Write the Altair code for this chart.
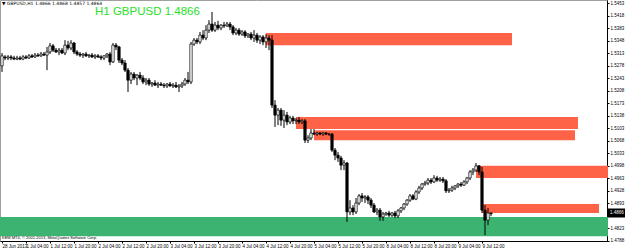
import altair as alt
import pandas as pd

# ---------------- data ----------------
opens = [1.5278,1.5303,1.5300,1.5303,1.5300,1.5297,1.5300,1.5297,1.5303,1.5300,
         1.5306,1.5303,1.5308,1.5306,1.5311,1.5308,1.5317,1.5334,1.5322,1.5317,
         1.5322,1.5314,1.5336,1.5328,1.5342,1.5317,1.5311,1.5308,1.5311,1.5306,
         1.5308,1.5303,1.5306,1.5303,1.5300,1.5306,1.5311,1.5289,1.5336,1.5331,
         1.5294,1.5286,1.5266,1.5238,1.5255,1.5244,1.5252,1.5244,1.5233,1.5238,
         1.5227,1.5230,1.5224,1.5227,1.5224,1.5222,1.5227,1.5222,1.5224,1.5219,
         1.5222,1.5227,1.5238,1.5233,1.5339,1.5350,1.5345,1.5364,1.5356,1.5378,
         1.5395,1.5378,1.5392,1.5384,1.5392,1.5390,1.5395,1.5387,1.5370,1.5378,
         1.5367,1.5373,1.5362,1.5367,1.5356,1.5364,1.5350,1.5359,1.5345,1.5356,
         1.5350,1.5168,1.5140,1.5154,1.5126,1.5140,1.5121,1.5132,1.5124,1.5126,
         1.5121,1.5124,1.5070,1.5076,1.5090,1.5087,1.5090,1.5087,1.5090,1.5087,
         1.5087,1.5042,1.5028,1.5020,1.5000,1.5006,1.4869,1.4880,1.4869,1.4894,
         1.4914,1.4908,1.4911,1.4902,1.4888,1.4869,1.4874,1.4855,1.4863,1.4866,
         1.4860,1.4866,1.4858,1.4872,1.4880,1.4891,1.4902,1.4914,1.4905,1.4925,
         1.4936,1.4947,1.4950,1.4958,1.4953,1.4964,1.4958,1.4961,1.4956,1.4928,
         1.4930,1.4936,1.4942,1.4947,1.4944,1.4953,1.4964,1.4981,1.4986,1.4998,
         1.4981,1.4874,1.4846,1.4866]
highs = [1.5314,1.5308,1.5308,1.5308,1.5306,1.5306,1.5306,1.5308,1.5308,1.5311,
         1.5311,1.5314,1.5314,1.5317,1.5317,1.5331,1.5342,1.5339,1.5328,1.5328,
         1.5328,1.5350,1.5348,1.5350,1.5345,1.5322,1.5317,1.5314,1.5317,1.5311,
         1.5314,1.5311,1.5311,1.5308,1.5308,1.5314,1.5317,1.5342,1.5342,1.5334,
         1.5300,1.5294,1.5272,1.5261,1.5261,1.5255,1.5261,1.5252,1.5244,1.5244,
         1.5233,1.5238,1.5233,1.5233,1.5230,1.5230,1.5233,1.5230,1.5233,1.5227,
         1.5233,1.5244,1.5261,1.5345,1.5356,1.5356,1.5373,1.5378,1.5392,1.5406,
         1.5429,1.5401,1.5404,1.5395,1.5401,1.5401,1.5401,1.5392,1.5384,1.5384,
         1.5378,1.5378,1.5370,1.5373,1.5378,1.5370,1.5364,1.5364,1.5367,1.5364,
         1.5364,1.5182,1.5160,1.5160,1.5154,1.5149,1.5138,1.5138,1.5132,1.5135,
         1.5129,1.5129,1.5084,1.5101,1.5101,1.5093,1.5093,1.5093,1.5093,1.5090,
         1.5090,1.5048,1.5037,1.5026,1.5014,1.5009,1.4902,1.4888,1.4908,1.4919,
         1.4922,1.4916,1.4916,1.4908,1.4894,1.4880,1.4880,1.4869,1.4869,1.4872,
         1.4869,1.4872,1.4877,1.4883,1.4894,1.4905,1.4919,1.4919,1.4930,1.4942,
         1.4950,1.4956,1.4964,1.4964,1.4972,1.4970,1.4967,1.4967,1.4961,1.4936,
         1.4942,1.4944,1.4950,1.4953,1.4958,1.4967,1.4986,1.4992,1.5006,1.5000,
         1.4995,1.4888,1.4880,1.4868]
lows = [1.5261,1.5294,1.5294,1.5294,1.5294,1.5294,1.5294,1.5294,1.5297,1.5297,
        1.5300,1.5300,1.5303,1.5303,1.5306,1.5266,1.5311,1.5317,1.5314,1.5308,
        1.5311,1.5308,1.5322,1.5322,1.5311,1.5306,1.5303,1.5300,1.5303,1.5300,
        1.5300,1.5297,1.5300,1.5294,1.5294,1.5300,1.5280,1.5286,1.5322,1.5286,
        1.5280,1.5261,1.5205,1.5227,1.5238,1.5224,1.5238,1.5227,1.5224,1.5222,
        1.5219,1.5222,1.5216,1.5222,1.5216,1.5216,1.5219,1.5216,1.5216,1.5205,
        1.5216,1.5222,1.5227,1.5227,1.5334,1.5339,1.5339,1.5350,1.5350,1.5370,
        1.5373,1.5373,1.5378,1.5378,1.5384,1.5387,1.5378,1.5364,1.5364,1.5362,
        1.5362,1.5356,1.5356,1.5350,1.5345,1.5342,1.5339,1.5336,1.5328,1.5322,
        1.5160,1.5107,1.5112,1.5110,1.5104,1.5112,1.5115,1.5115,1.5115,1.5115,
        1.5115,1.5062,1.5062,1.5070,1.5084,1.5082,1.5084,1.5082,1.5084,1.5082,
        1.5037,1.5014,1.5009,1.4986,1.4986,1.4841,1.4860,1.4860,1.4863,1.4888,
        1.4897,1.4894,1.4891,1.4880,1.4866,1.4860,1.4844,1.4844,1.4858,1.4855,
        1.4855,1.4852,1.4852,1.4866,1.4874,1.4886,1.4897,1.4902,1.4902,1.4919,
        1.4930,1.4942,1.4944,1.4947,1.4950,1.4953,1.4953,1.4950,1.4922,1.4922,
        1.4925,1.4930,1.4936,1.4939,1.4942,1.4947,1.4958,1.4972,1.4981,1.4972,
        1.4866,1.4804,1.4832,1.4857]
closes = [1.5306,1.5300,1.5303,1.5300,1.5297,1.5300,1.5297,1.5303,1.5300,1.5306,
          1.5303,1.5308,1.5306,1.5311,1.5308,1.5317,1.5334,1.5322,1.5317,1.5322,
          1.5314,1.5336,1.5328,1.5342,1.5317,1.5311,1.5308,1.5311,1.5306,1.5308,
          1.5303,1.5306,1.5303,1.5300,1.5306,1.5311,1.5289,1.5336,1.5331,1.5294,
          1.5286,1.5266,1.5238,1.5255,1.5244,1.5252,1.5244,1.5233,1.5238,1.5227,
          1.5230,1.5224,1.5227,1.5224,1.5222,1.5227,1.5222,1.5224,1.5219,1.5222,
          1.5227,1.5238,1.5233,1.5339,1.5350,1.5345,1.5364,1.5356,1.5378,1.5395,
          1.5378,1.5392,1.5384,1.5392,1.5390,1.5395,1.5387,1.5370,1.5378,1.5367,
          1.5373,1.5362,1.5367,1.5356,1.5364,1.5350,1.5359,1.5345,1.5356,1.5350,
          1.5168,1.5140,1.5154,1.5126,1.5140,1.5121,1.5132,1.5124,1.5126,1.5121,
          1.5124,1.5070,1.5076,1.5090,1.5087,1.5090,1.5087,1.5090,1.5087,1.5087,
          1.5042,1.5028,1.5020,1.5000,1.5006,1.4869,1.4880,1.4869,1.4894,1.4914,
          1.4908,1.4911,1.4902,1.4888,1.4869,1.4874,1.4855,1.4863,1.4866,1.4860,
          1.4866,1.4858,1.4872,1.4880,1.4891,1.4902,1.4914,1.4905,1.4925,1.4936,
          1.4947,1.4950,1.4958,1.4953,1.4964,1.4958,1.4961,1.4956,1.4928,1.4930,
          1.4936,1.4942,1.4947,1.4944,1.4953,1.4964,1.4981,1.4986,1.4998,1.4981,
          1.4874,1.4846,1.4866,1.4864]

# supply / demand zones (bar index start/end, price top/bottom)
zone_start = [88, 98, 104, 158, 160, -1]
zone_end = [170, 192, 191, 202, 199, 202]
zone_top = [1.5370, 1.5135, 1.5098, 1.4998, 1.4891, 1.4855]
zone_bottom = [1.5336, 1.5101, 1.5070, 1.4964, 1.4866, 1.4801]
zone_color = ["#ff6347", "#ff6347", "#ff6347", "#ff6347", "#ff6347", "#3cb371"]

time_labels = ["28 Jun 2013", "1 Jul 04:00", "1 Jul 12:00", "1 Jul 20:00", "2 Jul 04:00",
               "2 Jul 12:00", "2 Jul 20:00", "3 Jul 04:00", "3 Jul 12:00", "3 Jul 20:00",
               "4 Jul 04:00", "4 Jul 12:00", "4 Jul 20:00", "5 Jul 04:00", "5 Jul 12:00",
               "5 Jul 20:00", "8 Jul 04:00", "8 Jul 12:00", "8 Jul 20:00", "9 Jul 04:00",
               "9 Jul 12:00"]
time_ticks = [0, 8, 16, 24, 32, 40, 48, 56, 64, 72, 80, 88, 96, 104, 112, 120, 128, 136,
              144, 152, 160]
price_ticks = [1.5453, 1.5418, 1.5383, 1.5348, 1.5313, 1.5278, 1.5243, 1.5208, 1.5173,
               1.5138, 1.5103, 1.5068, 1.5033, 1.4998, 1.4963, 1.4928, 1.4893, 1.4823,
               1.4788]
last_price = 1.4866
title_text = "H1 GBPUSD 1.4866"
header_text = "\u25bc GBPUSD,H1  1.4866 1.4868 1.4857 1.4864"
copyright_text = "KEM MT4, \u00a9 2001-2013, MetaQuotes Software Corp."

# ---------------- chart ----------------
FONT = "Liberation Sans"
candles = pd.DataFrame({"i": list(range(len(opens))), "o": opens, "h": highs,
                        "l": lows, "c": closes})
zones = pd.DataFrame({"x0": zone_start, "x1": zone_end, "top": zone_top,
                      "bot": zone_bottom, "col": zone_color})

xs = alt.Scale(domain=[-2 / 3, 201 + 2 / 3], nice=False, zero=False)
ys = alt.Scale(domain=[1.47876, 1.54624], nice=False, zero=False)

label_array = "[" + ",".join("'" + t + "'" for t in time_labels) + "]"
xaxis = alt.Axis(values=time_ticks, labelExpr=label_array + "[round(datum.value/8)]",
                 labelAlign="left", labelBaseline="top", labelFontSize=4.5, labelFont=FONT,
                 labelColor="black", tickSize=2, tickColor="black", labelPadding=0,
                 domainColor="black", grid=False, title=None, labelOverlap=False,
                 labelBound=False, labelFlush=False)
yaxis = alt.Axis(orient="right", values=price_ticks, format=".4f", labelFontSize=4.5,
                 labelFont=FONT, labelColor="black", tickSize=2, tickColor="black",
                 labelPadding=1, domainColor="black", grid=False, title=None,
                 labelOverlap=False, labelBound=False, labelFlush=False)

zone_layer = alt.Chart(zones).mark_rect(stroke=None).encode(
    x=alt.X("x0:Q", scale=xs, axis=xaxis),
    x2="x1:Q",
    y=alt.Y("top:Q", scale=ys, axis=yaxis),
    y2="bot:Q",
    color=alt.Color("col:N", scale=None),
)

wick = alt.Chart(candles).mark_rule(color="black", strokeWidth=1).encode(
    x=alt.X("i:Q", scale=xs, axis=xaxis),
    y=alt.Y("l:Q", scale=ys, axis=yaxis),
    y2="h:Q",
)

body = alt.Chart(candles).transform_calculate(
    xa="datum.i - 0.4", xb="datum.i + 0.4"
).mark_rect(stroke="black", strokeWidth=0.7).encode(
    x=alt.X("xa:Q", scale=xs, axis=xaxis),
    x2="xb:Q",
    y=alt.Y("o:Q", scale=ys, axis=yaxis),
    y2="c:Q",
    fill=alt.condition("datum.c >= datum.o", alt.value("white"), alt.value("black")),
)

price_df = pd.DataFrame({"p": [last_price], "t": ["1.4866"]})
price_box = alt.Chart(price_df).mark_tick(color="black", thickness=9, size=17,
                                          orient="horizontal", opacity=1).encode(
    x=alt.value(616.5),
    y=alt.Y("p:Q", scale=ys, axis=yaxis),
)
price_txt = alt.Chart(price_df).mark_text(color="white", fontSize=4.5, font=FONT,
                                          align="left", baseline="middle").encode(
    x=alt.value(610),
    y=alt.Y("p:Q", scale=ys, axis=yaxis),
    text="t:N",
)

title = alt.Chart(pd.DataFrame({"t": [title_text]})).mark_text(
    color="#28e028", fontSize=11.5, font=FONT, align="left", baseline="alphabetic"
).encode(text="t:N", x=alt.value(95), y=alt.value(15))

header = alt.Chart(pd.DataFrame({"t": [header_text]})).mark_text(
    color="black", fontSize=4.5, font="DejaVu Sans", align="left", baseline="middle"
).encode(text="t:N", x=alt.value(2), y=alt.value(4))

copyright_ = alt.Chart(pd.DataFrame({"t": [copyright_text]})).mark_text(
    color="black", fontSize=4, font=FONT, align="left", baseline="middle"
).encode(text="t:N", x=alt.value(2), y=alt.value(238))

chart = alt.layer(zone_layer, wick, body, price_box, price_txt, title, header, copyright_).properties(
    width=607, height=241,
    padding={"left": 0, "top": 0, "right": 18, "bottom": 7},
    autosize=alt.AutoSizeParams(type="none"),
    background="white",
).configure_view(stroke="#a0a0a0", strokeWidth=1)

chart.save("out.html", embed_options={"renderer": "svg", "actions": False})
